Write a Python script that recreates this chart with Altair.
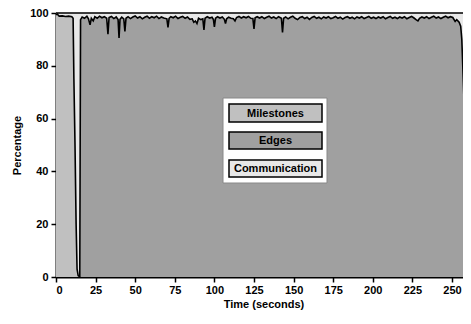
import altair as alt
import pandas as pd

# ---- data ----
milestone_time = [0, 0.8, 2, 4, 6, 8, 10, 10.8, 11.3, 12.0, 12.7, 13.3, 14.0, 15.0]
milestone_pct = [99.3, 99.6, 98.8, 98.9, 98.7, 98.8, 98.6, 98.0, 75, 50, 20, 3, 0.5, 0]

edges_time = [15, 15.5, 16.5, 18, 19.5, 20.5, 21.5, 22.3, 23.5, 24.5, 26, 27.5, 29, 30.5,
              32, 32.8, 33.5, 35, 36.5, 38, 39.2, 39.8, 40.4, 41.5, 42.8, 43.5, 44.2, 45.5,
              47, 48.5, 50, 51.5, 53, 54.5, 56, 57.5, 59, 60.5, 62, 63.5, 65, 66.5, 68, 70,
              70.7, 71.4, 72.5, 74, 75.5, 77, 78.5, 80, 81.5, 83, 84.5, 86, 87, 88, 89, 90,
              91.5, 92.7, 93.4, 94.1, 95.5, 97, 98.5, 99.4, 100, 100.7, 102, 103.5, 105,
              106.3, 107, 107.7, 109, 110.5, 112, 113, 114, 115.5, 117, 118.5, 120, 121.5,
              123, 124.3, 125, 125.7, 127, 128.5, 130, 131.5, 133, 134.5, 136, 137.5, 139,
              140.5, 142.3, 143, 143.7, 145, 146.5, 148, 149.5, 151, 152.5, 154, 155.5, 157,
              158.5, 160, 161.5, 163, 164.5, 166, 167.5, 169, 170.5, 172, 173.5, 175, 176.5,
              178, 179.5, 181, 182.5, 184, 185.5, 187, 188.5, 190, 191.5, 193, 194.5, 196,
              197.5, 199, 200.5, 202, 203.5, 205, 206.5, 208, 209.5, 211, 212.5, 214, 215.5,
              217, 218.5, 220, 221.5, 223, 224.5, 226, 227.5, 228.5, 229.5, 231, 232.5, 234,
              235.5, 237, 238.5, 240, 241.5, 243, 244.5, 246, 247.5, 249, 250.5, 252, 253,
              254.5, 255.5, 256.2, 258, 260, 261.5]
edges_pct = [0, 97.5, 98.5, 98, 98.8, 97.8, 95.5, 98, 97, 98.6, 98, 98.8, 98.2, 98.6,
             98, 92, 98.3, 98.7, 97.9, 98.5, 97.5, 90.5, 97.6, 98.4, 97.8, 93, 98, 98.6,
             97.9, 98.5, 98.9, 98.1, 98.6, 97.8, 98.4, 98.8, 98, 98.6, 98.2, 98.8, 97.9, 98.5, 98.1, 97.8,
             94.5, 98, 98.6, 98.2, 98.8, 97.9, 98.4, 98.7, 98, 98.5, 97.6, 97.8, 96.5, 97.0, 96, 98,
             97.5, 97.8, 93.6, 98, 98.6, 98.1, 98.4, 97.5, 94.7, 98, 98.6, 98.1, 98.5,
             97.6, 96, 97.8, 98.4, 98, 97.8, 97, 98.3, 98.7, 98.1, 98.6, 98.2, 98.7,
             98, 97.9, 94, 98.2, 98.6, 98.1, 98.6, 97.9, 98.4, 98.8, 98.1, 98.5, 97.9,
             98.6, 98, 92.6, 98, 98.5, 97.8, 98.4, 98.8, 98, 97.5, 98.3, 98.6, 97.9,
             98.4, 97.6, 98.3, 98.7, 98, 98.4, 97.8, 98.5, 98.1, 98.6, 97.9, 98.2, 98.7,
             98, 98.4, 97.7, 98.3, 98.6, 98, 98.4, 97.8, 98.5, 98.1, 98.6, 97.9, 98.3,
             98.7, 98, 98.4, 97.9, 98.5, 98.1, 98.6, 97.8, 98.3, 98.7, 98, 98.4, 97.9,
             98.5, 98.1, 98.6, 97.8, 98.3, 98.7, 98.1, 97.4, 97.0, 98, 98.5, 98.1, 98.6,
             97.9, 98.4, 98.8, 98.1, 98.5, 97.9, 98.4, 98.8, 98.2, 98.6, 98.3, 96.8, 97.5,
             96.5, 95, 90, 60, 25, 1]

comm_time = [0, 262]
comm_pct = [100, 100]

series_names = ["Milestones", "Edges", "Communication"]
series_colors = ["#c0c0c0", "#a0a0a0", "#e8e8e8"]

x_ticks = [0, 25, 50, 75, 100, 125, 150, 175, 200, 225, 250]
y_ticks = [0, 20, 40, 60, 80, 100]

FONT = "Liberation Sans"
W, H = 415, 264

ms = pd.DataFrame({"t": milestone_time, "p": milestone_pct})
ed = pd.DataFrame({"t": edges_time, "p": edges_pct})
cm = pd.DataFrame({"t": comm_time, "p": comm_pct})

xs = alt.Scale(domain=[0, 262], nice=False, zero=False)
ys = alt.Scale(domain=[0, 100], nice=False)

xenc = alt.X("t:Q", scale=xs, title="Time (seconds)",
             axis=alt.Axis(values=x_ticks, format="d"))
yenc = alt.Y("p:Q", scale=ys, title="Percentage",
             axis=alt.Axis(values=y_ticks, format="d"))

comm = alt.Chart(cm).mark_area(color=series_colors[2], opacity=1).encode(x=xenc, y=yenc)
edges = alt.Chart(ed).mark_area(
    color=series_colors[1], opacity=1, line={"color": "black", "strokeWidth": 1.6}
).encode(x=xenc, y=yenc)
miles = alt.Chart(ms).mark_area(
    color=series_colors[0], opacity=1, line={"color": "black", "strokeWidth": 1.6}
).encode(x=xenc, y=yenc)

top_rule = alt.Chart(cm).mark_rule(color="black", strokeWidth=1.2).encode(
    y=alt.datum(100), x=alt.value(0), x2=alt.value(W))

# legend box (decoration, pixel positions inside plot area)
lx0, lx1, ly0, ly1 = 167, 271, 85, 170
legend_bg = alt.Chart(pd.DataFrame({"s": ["legend"]})).mark_rect(
    fill="white", stroke="#888888", strokeWidth=1).encode(
    x=alt.value(lx0), x2=alt.value(lx1), y=alt.value(ly0), y2=alt.value(ly1))

layers = [comm, edges, miles, top_rule, legend_bg]
entry_y = [(91, 109), (119, 136), (147, 164)]
for name, col, (y0, y1) in zip(series_names, series_colors, entry_y):
    d = pd.DataFrame({"series": [name]})
    box = alt.Chart(d).mark_rect(fill=col, stroke="black", strokeWidth=1.5).encode(
        x=alt.value(173), x2=alt.value(266), y=alt.value(y0), y2=alt.value(y1))
    txt = alt.Chart(d).mark_text(font=FONT, fontSize=11, fontWeight="bold", color="black",
                                 align="center", baseline="middle").encode(
        x=alt.value(219.5), y=alt.value((y0 + y1) / 2 + 0.5), text="series:N")
    layers += [box, txt]

chart = alt.layer(*layers).properties(
    width=W, height=H,
    autosize=alt.AutoSizeParams(type="none"),
    padding={"left": 48, "top": 5, "right": -8, "bottom": 34},
).configure_view(stroke=None).configure_axis(
    grid=False, labelFont=FONT, labelFontSize=11, labelFontWeight="bold", labelColor="black",
    titleFont=FONT, titleFontSize=11, titleFontWeight="bold", titleColor="black",
    domainColor="black", domainWidth=2, tickColor="black", tickWidth=1.5, tickSize=5,
).configure_axisY(labelPadding=3, titlePadding=7).configure_axisX(labelPadding=2, titlePadding=3)

chart.save("out.html", embed_options={"renderer": "svg", "actions": False})
